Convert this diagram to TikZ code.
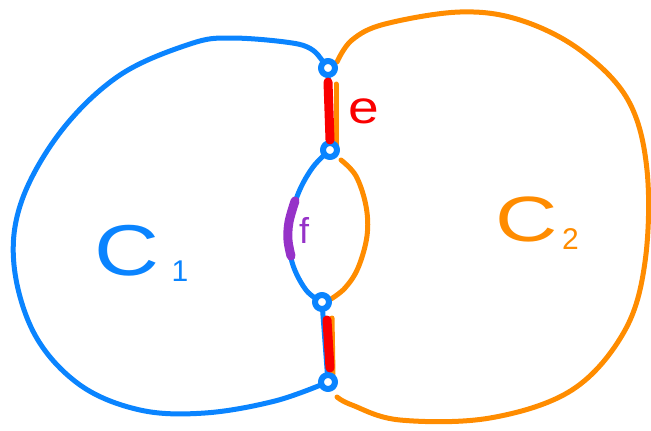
\documentclass[tikz,border=0pt]{standalone}
\usepackage{fontspec}
\setsansfont{Liberation Sans}
\usetikzlibrary{positioning}
\definecolor{cblue}{RGB}{10,132,255}
\definecolor{corange}{RGB}{255,140,0}
\definecolor{cred}{RGB}{250,0,0}
\definecolor{cpurple}{RGB}{150,50,200}

\begin{document}
\begin{tikzpicture}[
  x=1pt, y=-1pt,
  line cap=round, line join=round,
  font=\sffamily,
  bluecurve/.style={draw=cblue, line width=5pt},
  orangecurve/.style={draw=corange, line width=5pt},
  redmark/.style={draw=cred, line width=9pt},
  purplemark/.style={draw=cpurple, line width=9pt},
  vertexdot/.style={circle, draw=cblue, line width=6pt, fill=white,
        minimum size=14pt, inner sep=0pt},
  lbl/.style={inner sep=0pt, anchor=base west},
]
\useasboundingbox (0,0) rectangle (651,431);

% --- vertices on the shared border ---
\coordinate (v1) at (328,68);
\coordinate (v2) at (330,150);
\coordinate (v3) at (322,302);
\coordinate (v4) at (328,382);

% --- cycle C1 (blue) ---
\draw[bluecurve] plot[smooth, tension=0.6] coordinates {
  (318,55) (298,44) (232,38) (190,44) (120,75) (62,130) (22,200)
  (14,265) (35,335) (80,385) (140,410) (205,413) (275,401) (v4)};
\draw[bluecurve] (318,55) -- (v1);
\draw[bluecurve] (v1) -- (v2);
\draw[bluecurve] plot[smooth, tension=0.6] coordinates {
  (v2) (313,167) (298,194) (289,228) (292,262) (306,290) (v3)};
\draw[bluecurve] (v3) -- (v4);

% --- cycle C2 (orange) ---
\draw[orangecurve] plot[smooth, tension=0.6] coordinates {
  (337,62) (352,40) (385,24) (460,12) (520,20) (580,50) (628,100)
  (647,170) (645,262) (624,332) (572,390) (490,418) (400,420)
  (352,405) (337,397)};
\coordinate (o1) at (336,84);
\coordinate (o2) at (336,146);
\draw[orangecurve] (o1) -- (o2);
\draw[orangecurve] plot[smooth, tension=0.6] coordinates {
  (341,160) (356,176) (366,206) (367,236) (358,268) (345,288) (331,299)};
\coordinate (o3) at (332,318);
\coordinate (o4) at (333,374);
\draw[orangecurve] (o3) -- (o4);

% --- vertex blobs ---
\foreach \v in {v1,v2,v3,v4}{
  \node[vertexdot] (d\v) at (\v) {};
}

% --- edge e (red) and edge f (purple) ---
\coordinate (e1) at (328,82);
\coordinate (e2) at (330,140);
\draw[redmark] (e1) -- (e2);
\coordinate (e3) at (327,320);
\coordinate (e4) at (330,368);
\draw[redmark] (e3) -- (e4);
\draw[purplemark] plot[smooth, tension=0.6] coordinates {
  (295,201) (289,222) (288,240) (291,256)};

% --- labels ---
\node[lbl, text=cred, font=\sffamily\fontsize{46}{46}\selectfont, xscale=1.2]
  (lble) at (348,123) {e};
\node[lbl, text=cpurple, font=\sffamily\fontsize{36}{36}\selectfont]
  (lblf) at (299,243) {f};
\node[lbl, text=cblue, font=\sffamily\fontsize{72}{72}\selectfont, xscale=1.25]
  (lblc1) at (94,275) {C};
\node[lbl, text=cblue, font=\sffamily\fontsize{30}{30}\selectfont,
  right=12pt of lblc1.base east, anchor=base west, yshift=-6pt]
  (lblc1sub) {1};
\node[lbl, text=corange, font=\sffamily\fontsize{64}{64}\selectfont, xscale=1.35]
  (lblc2) at (495,241) {C};
\node[lbl, text=corange, font=\sffamily\fontsize{30}{30}\selectfont,
  right=4pt of lblc2.base east, anchor=base west, yshift=-8pt]
  (lblc2sub) {2};
\end{tikzpicture}
\end{document}
